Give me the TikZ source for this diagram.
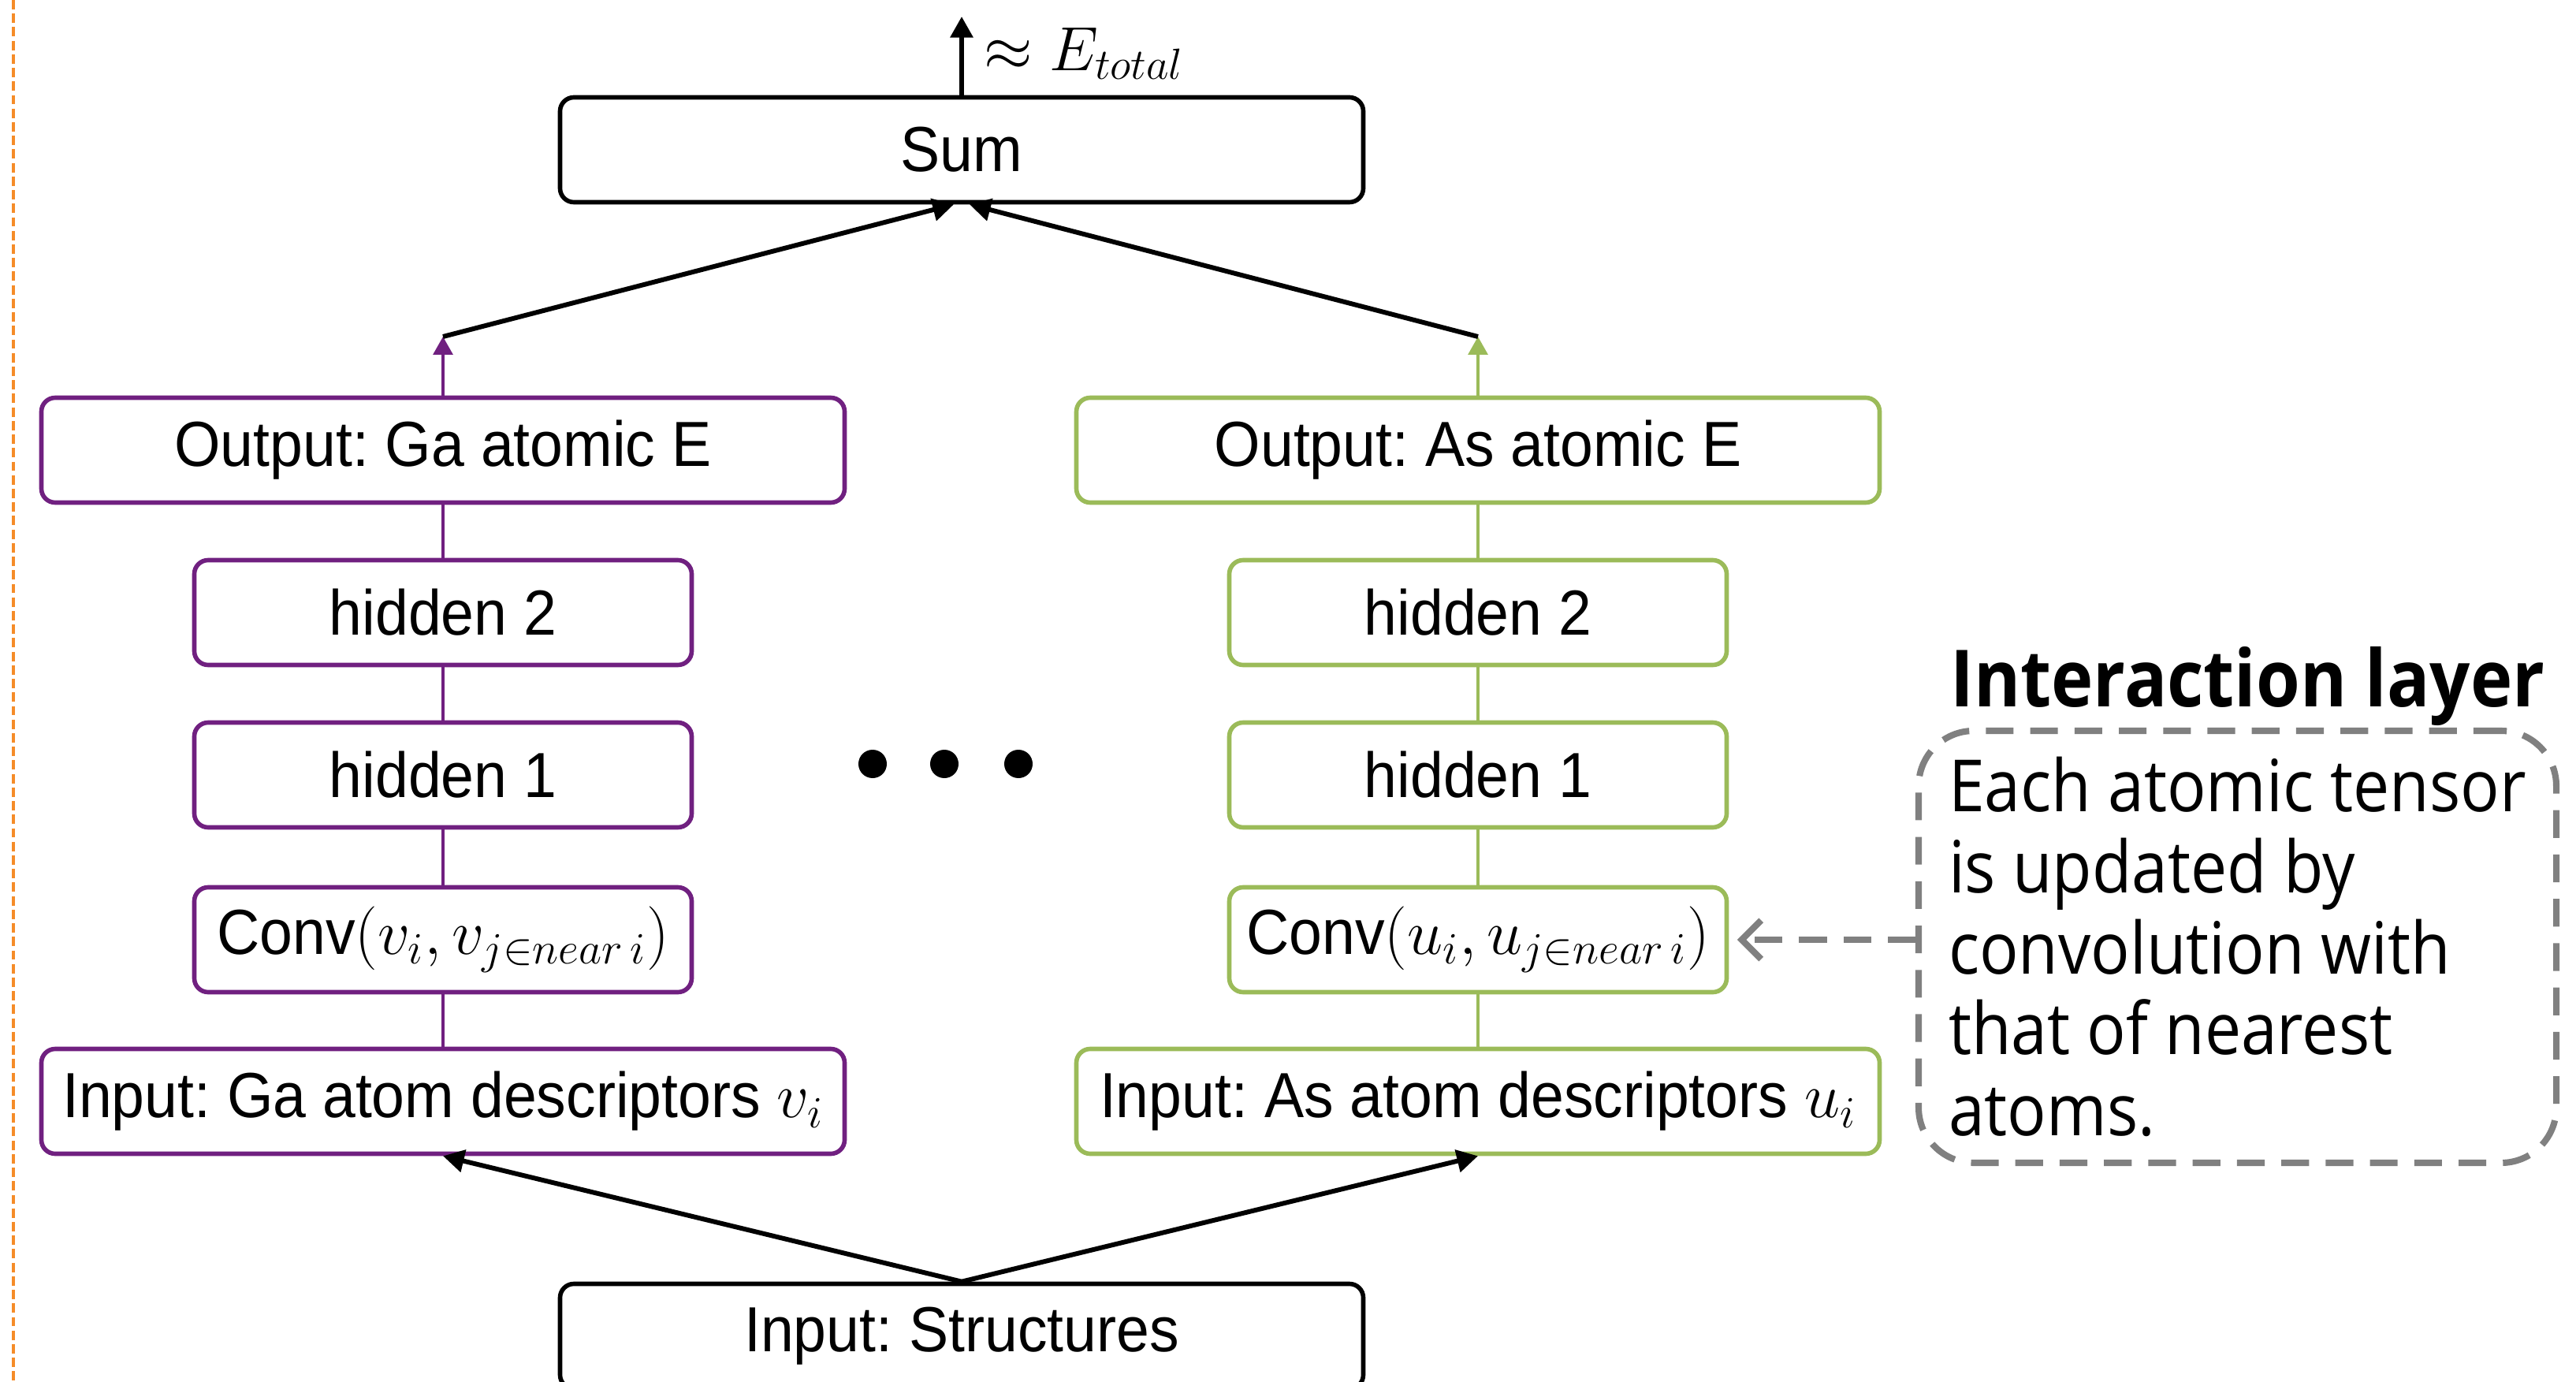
\RequirePackage{fix-cm}
\documentclass[tikz,border=0pt]{standalone}
\usepackage{fontspec}
\setmainfont{Liberation Sans}[FakeStretch=0.93]
\newfontfamily\notefont{Open Sans}[FakeStretch=0.9]
\frenchspacing
\usetikzlibrary{arrows.meta}
\definecolor{gaviolet}{RGB}{112,32,128}
\definecolor{asgreen}{RGB}{155,187,89}
\definecolor{notegray}{RGB}{128,128,128}
\definecolor{edgeorange}{RGB}{245,140,40}
\tikzset{
	layer/.style={draw, line width=1.6pt, rounded corners=5pt, minimum height=1.33cm, inner sep=0pt, font=\fontsize{23}{27}\selectfont},
	widelayer/.style={layer, minimum width=10.19cm},
	narrowlayer/.style={layer, minimum width=6.31cm},
	link/.style={line width=1.1pt},
	flow/.style={line width=1.7pt, -{Triangle[length=7.6pt,width=8pt]}},
	notebox/.style={draw=notegray, line width=2.3pt, dash pattern=on 10pt off 6pt, rounded corners=0.7cm, minimum width=8.09cm, minimum height=5.48cm, align=left, inner sep=0pt, font=\notefont\fontsize{26}{29.2}\selectfont},
	hint/.style={draw=notegray, line width=2.3pt, dash pattern=on 10pt off 6pt, -{Straight Barb[length=7pt,width=14pt]}}
}
\begin{document}
\begin{tikzpicture}
	\useasboundingbox (0,0) rectangle (32.68,-17.53);
	% dashed edge at the left
	\draw[edgeorange, line width=1.1pt, dash pattern=on 3.4pt off 1.5pt] (0.17,0) -- (0.17,-17.53);
	
	% sum and total energy
	\node[widelayer] (sum) at (12.20,-1.90) {Sum};
	\coordinate (etop) at (12.20,-0.21);
	\draw[flow] (sum) -- (etop);
	\node[anchor=west, font=\fontsize{22.5}{26}\selectfont] (etotal) at (12.36,-0.68) {$\approx E_{total}$};
	
	% one column per element
	\foreach \el/\x/\clr/\sym in {Ga/5.62/gaviolet/v, As/18.75/asgreen/u}{
		\node[widelayer, draw=\clr] (\el-out) at (\x,-5.71) {Output: \el\ atomic E};
		\node[narrowlayer, draw=\clr] (\el-h2) at (\x,-7.77) {hidden 2};
		\node[narrowlayer, draw=\clr] (\el-h1) at (\x,-9.83) {hidden 1};
		\node[narrowlayer, draw=\clr] (\el-conv) at (\x,-11.92) {Conv$(\sym_i, \sym_{j\in near\, i})$};
		\node[widelayer, draw=\clr] (\el-in) at (\x,-13.97) {Input: \el\ atom descriptors $\sym_i$};
		\draw[link, \clr] (\el-in) -- (\el-conv) (\el-conv) -- (\el-h1) (\el-h1) -- (\el-h2) (\el-h2) -- (\el-out);
		\coordinate (\el-top) at (\x,-4.27);
		\draw[link, \clr, -{Triangle[length=6.5pt,width=7pt]}] (\el-out) -- (\el-top);
	}
	\draw[flow] (Ga-top) -- ([xshift=-0.1cm]sum.south);
	\draw[flow] (As-top) -- ([xshift=0.1cm]sum.south);
	
	% more elements
	\foreach \x in {11.07,11.98,12.92}
	\fill (\x,-9.69) circle (0.18);
	
	% structures
	\node[widelayer] (struct) at (12.20,-16.95) {Input: Structures};
	\draw[flow] (struct.north) -- (Ga-in.south);
	\draw[flow] (struct.north) -- (As-in.south);
	
	% interaction layer note
	\node[anchor=base west, font=\notefont\bfseries\fontsize{28.5}{33}\selectfont] (notetitle) at (24.62,-8.96) {Interaction layer};
	\node[notebox] (note) at (28.385,-12.01) {Each atomic tensor\\is updated by\\convolution with\\that of nearest\\atoms.};
	\draw[hint, shorten >=3pt] (note.west |- As-conv) -- (As-conv.east);
\end{tikzpicture}
\end{document}
